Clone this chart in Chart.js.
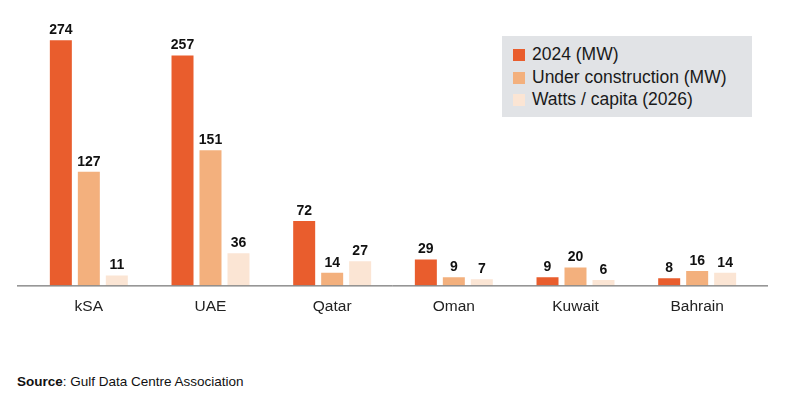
<!DOCTYPE html>
<html lang="en">
<head>
    <meta charset="UTF-8">
    <title>Gulf data centres</title>
    <script src="https://cdn.jsdelivr.net/npm/chart.js"></script>
    <style>
        body { margin: 0; background: #fff; font-family: "Liberation Sans", Arial, sans-serif; }
        .wrap { position: relative; width: 787px; height: 406px; }
        .chart-box { position: absolute; left: 0; top: 0; width: 787px; height: 330px; }
        .legend {
            position: absolute; left: 502px; top: 36px; width: 250px; height: 81px;
            background: #e1e3e6; box-sizing: border-box; padding: 7px 0 0 11px;
            font-size: 17.5px; color: #1a1a1a;
        }
        .legend div { height: 22.5px; line-height: 22px; white-space: nowrap; }
        .legend span { display: inline-block; width: 12px; height: 12px; margin-right: 7px; vertical-align: -1px; }
        .source { position: absolute; left: 17px; top: 374px; font-size: 13.5px; color: #111; }
    </style>
</head>
<body>
<div class="wrap">
    <div class="chart-box"><canvas id="chart" width="787" height="330"></canvas></div>
    <div class="legend">
        <div><span style="background:#e95d2d"></span>2024 (MW)</div>
        <div><span style="background:#f3b07d"></span>Under construction (MW)</div>
        <div><span style="background:#fbe5d4"></span>Watts / capita (2026)</div>
    </div>
    <div class="source"><b>Source</b>: Gulf Data Centre Association</div>
</div>
<script>
    const countries = ['kSA', 'UAE', 'Qatar', 'Oman', 'Kuwait', 'Bahrain'];
    const mw2024 = [274, 257, 72, 29, 9, 8];
    const underConstruction = [127, 151, 14, 9, 20, 16];
    const wattsPerCapita = [11, 36, 27, 7, 6, 14];

    // value labels above each bar
    const valueLabels = {
        id: 'valueLabels',
        afterDatasetsDraw(chart) {
            const ctx = chart.ctx;
            ctx.save();
            ctx.font = 'bold 14px "Liberation Sans", Arial, sans-serif';
            ctx.fillStyle = '#111';
            ctx.textAlign = 'center';
            ctx.textBaseline = 'bottom';
            chart.data.datasets.forEach((ds, i) => {
                chart.getDatasetMeta(i).data.forEach((bar, j) => {
                    ctx.fillText(ds.data[j], bar.x, bar.y - 3);
                });
            });
            ctx.restore();
        }
    };

    // baseline runs a bit wider than the plot area
    const baseline = {
        id: 'baseline',
        afterDraw(chart) {
            const ctx = chart.ctx;
            const y = chart.scales.y.getPixelForValue(0) + 0.5;
            ctx.save();
            ctx.strokeStyle = '#555';
            ctx.lineWidth = 1;
            ctx.beginPath();
            ctx.moveTo(17, y);
            ctx.lineTo(768, y);
            ctx.stroke();
            ctx.restore();
        }
    };

    new Chart(document.getElementById('chart'), {
        type: 'bar',
        data: {
            labels: countries,
            datasets: [
                { label: '2024 (MW)', data: mw2024, backgroundColor: '#e95d2d' },
                { label: 'Under construction (MW)', data: underConstruction, backgroundColor: '#f3b07d' },
                { label: 'Watts / capita (2026)', data: wattsPerCapita, backgroundColor: '#fbe5d4' }
            ]
        },
        options: {
            responsive: false,
            animation: false,
            layout: { padding: { left: 28, right: 29, top: 17, bottom: 10 } },
            datasets: { bar: { categoryPercentage: 0.69, barPercentage: 0.786 } },
            plugins: { legend: { display: false }, tooltip: { enabled: false } },
            scales: {
                x: {
                    grid: { display: false },
                    border: { display: false },
                    ticks: { color: '#222', padding: 4, font: { size: 15.5, family: '"Liberation Sans", Arial, sans-serif' } }
                },
                y: { display: false, min: 0, max: 300 }
            }
        },
        plugins: [valueLabels, baseline]
    });
</script>
</body>
</html>
